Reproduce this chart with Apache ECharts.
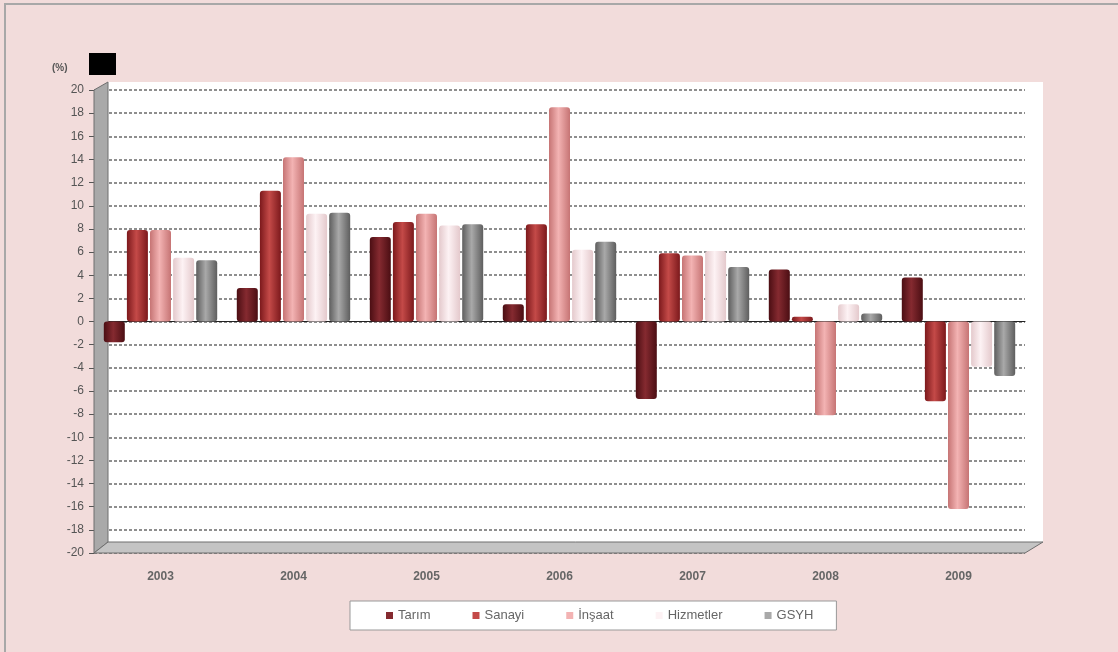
<!DOCTYPE html>
<html>
<head>
<meta charset="utf-8">
<script src="https://cdn.jsdelivr.net/npm/echarts@6/dist/echarts.min.js"></script>
<style>
  html, body { margin: 0; padding: 0; background: #f2dcdb; }
  #chart { width: 1118px; height: 652px; }
</style>
</head>
<body>
<div id="chart"></div>
<script>
// yıllar
const years = ['2003', '2004', '2005', '2006', '2007', '2008', '2009']
const seriesNames = ['Tarım', 'Sanayi', 'İnşaat', 'Hizmetler', 'GSYH']

// büyüme oranları (%)
const tarim     = [-1.8, 2.9, 7.3, 1.5, -6.7, 4.5, 3.8]
const sanayi    = [7.9, 11.3, 8.6, 8.4, 5.9, 0.4, -6.9]
const insaat    = [7.9, 14.2, 9.3, 18.5, 5.7, -8.1, -16.2]
const hizmetler = [5.5, 9.3, 8.3, 6.2, 6.1, 1.5, -3.9]
const gsyh      = [5.3, 9.4, 8.4, 6.9, 4.7, 0.7, -4.7]

const yTicks = { min: -20, max: 20, step: 2 }

// renkler: [kenar, orta]
const palette = [
    ['#4b0e13', '#852a30'],
    ['#7c191c', '#c44a48'],
    ['#c67474', '#f3b3b3'],
    ['#e4c9cc', '#fdf2f4'],
    ['#5e5e5e', '#a9a9a9']
]

function cylinder(c) {
    return new echarts.graphic.LinearGradient(0, 0, 1, 0, [
        { offset: 0, color: c[0] },
        { offset: 0.45, color: c[1] },
        { offset: 1, color: c[0] }
    ])
}

const dataSets = [tarim, sanayi, insaat, hizmetler, gsyh]

const chart = echarts.init(document.getElementById('chart'))

const series = dataSets.map((d, i) => ({
    name: seriesNames[i],
    type: 'bar',
    data: d,
    barWidth: 21,
    barGap: '10%',
    itemStyle: {
        color: cylinder(palette[i]),
        borderRadius: 3
    }
}))

const option = {
    backgroundColor: '#f2dcdb',
    animation: false,
    textStyle: { fontFamily: 'Liberation Sans, Arial, sans-serif' },
    grid: {
        left: 94,
        right: 93,
        top: 90,
        bottom: 99,
        show: true,
        backgroundColor: '#ffffff',
        borderWidth: 0
    },
    graphic: [
        // dış çerçeve
        { type: 'rect', shape: { x: 5, y: 4, width: 1200, height: 700 },
          style: { fill: 'none', stroke: '#a8a8a8', lineWidth: 2 }, silent: true },
        // arka duvarın görünen kısmı
        { type: 'rect', shape: { x: 108, y: 82, width: 935, height: 460 },
          style: { fill: '#ffffff' }, z: -10 },
        // (%) etiketi
        { type: 'text', left: 52, top: 63,
          style: { text: '(%)', font: 'bold 10px Liberation Sans, Arial', fill: '#555' } },
        { type: 'rect', shape: { x: 89, y: 53, width: 27, height: 22 }, style: { fill: '#000' } },
        // sol duvar
        { type: 'polygon', shape: { points: [[94, 90], [108, 82], [108, 542], [94, 553]] },
          style: { fill: '#a9a9a9', stroke: '#6e6e6e', lineWidth: 1 }, z: 1 },
        // zemin
        { type: 'polygon', shape: { points: [[94, 553], [108, 542], [1043, 542], [1025, 553]] },
          style: { fill: '#c4c4c4', stroke: '#6e6e6e', lineWidth: 1 }, z: 1 }
    ],
    legend: {
        data: seriesNames.map((n, i) => ({ name: n, itemStyle: { color: palette[i][1] } })),
        bottom: 22,
        left: 350,
        icon: 'rect',
        itemWidth: 7,
        itemHeight: 7,
        itemGap: 42,
        padding: [8, 23, 8, 36],
        backgroundColor: '#ffffff',
        borderColor: '#999999',
        borderWidth: 1,
        textStyle: { fontSize: 13, color: '#666' }
    },
    xAxis: {
        type: 'category',
        data: years,
        axisLine: { onZero: true, lineStyle: { color: '#222', width: 1 } },
        axisTick: { show: false },
        axisLabel: {
            show: true,
            fontSize: 12,
            fontWeight: 'bold',
            color: '#666',
            margin: 18
        },
        position: 'bottom'
    },
    yAxis: {
        type: 'value',
        min: yTicks.min,
        max: yTicks.max,
        interval: yTicks.step,
        axisLine: { show: false },
        axisTick: { show: true, length: 5, lineStyle: { color: '#555' } },
        axisLabel: { fontSize: 12, color: '#555', margin: 10 },
        splitLine: { lineStyle: { color: '#6a6a6a', type: [3, 2], width: 1.5 } }
    },
    series: series
}

chart.setOption(option)
</script>
</body>
</html>
